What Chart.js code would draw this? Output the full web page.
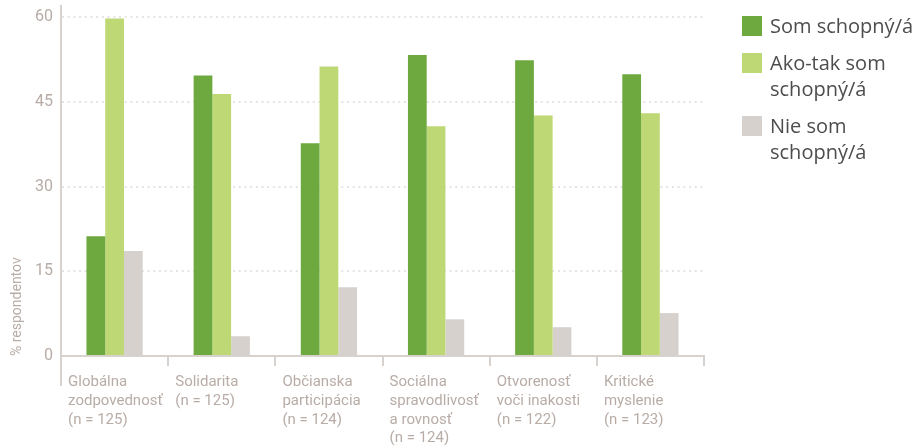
<!DOCTYPE html>
<html>
<head>
<meta charset="utf-8">
<script src="https://cdn.jsdelivr.net/npm/chart.js@4"></script>
<style>
  html, body { margin: 0; padding: 0; background: #fff; }
  #wrap { position: relative; width: 916px; height: 446px; overflow: hidden; }
  #legend { position: absolute; left: 742px; top: 13px; font-family: "Open Sans", sans-serif; font-size: 20px; line-height: 26px; color: #4d4d4d; }
  .item { display: flex; align-items: flex-start; margin-bottom: 11px; }
  .box { width: 20px; height: 20px; margin-top: 3px; margin-right: 8px; flex: none; }
  .txt { width: 150px; }
</style>
</head>
<body>
<div id="wrap">
  <canvas id="chart" width="916" height="446"></canvas>
  <div id="legend"></div>
</div>
<script>
var docById = function (id) { return document.getElementById(id); };

// categories (multi-line labels)
const categories = [
  ["Globálna", "zodpovednosť", "(n = 125)"],
  ["Solidarita", "(n = 125)"],
  ["Občianska", "participácia", "(n = 124)"],
  ["Sociálna", "spravodlivosť", "a rovnosť", "(n = 124)"],
  ["Otvorenosť", "voči inakosti", "(n = 122)"],
  ["Kritické", "myslenie", "(n = 123)"]
];

const seriesNames = ["Som schopný/á", "Ako-tak som schopný/á", "Nie som schopný/á"];
const seriesColors = ["#6ea940", "#bdd874", "#d6d1cd"];

const somSchopny = [21.2, 49.7, 37.7, 53.3, 52.4, 49.9];
const akoTak = [59.8, 46.4, 51.3, 40.7, 42.6, 43.0];
const nieSom = [18.6, 3.5, 12.2, 6.5, 5.1, 7.6];

const yTicks = [0, 15, 30, 45, 60];

const axisColor = "#d7d2ce";
const labelColor = "#b8aca7";

// left axis line continues down past the category labels
const axisExtend = {
  id: "axisExtend",
  afterDraw(chart) {
    const ctx = chart.ctx;
    const a = chart.chartArea;
    ctx.save();
    ctx.strokeStyle = axisColor;
    ctx.lineWidth = 2;
    ctx.beginPath();
    ctx.moveTo(a.left, a.bottom);
    ctx.lineTo(a.left, 386);
    ctx.stroke();
    ctx.restore();
  }
};

new Chart(docById("chart").getContext("2d"), {
  type: "bar",
  data: {
    labels: categories,
    datasets: [somSchopny, akoTak, nieSom].map((d, i) => ({
      label: seriesNames[i],
      data: d,
      backgroundColor: seriesColors[i],
      borderWidth: 0,
      categoryPercentage: 0.525,
      barPercentage: 1.0
    }))
  },
  options: {
    responsive: false,
    animation: false,
    layout: { padding: { top: 6, right: 212, left: 0, bottom: 0 } },
    plugins: {
      legend: { display: false },
      tooltip: { enabled: false }
    },
    scales: {
      x: {
        offset: true,
        grid: {
          offset: true,
          drawOnChartArea: false,
          drawTicks: true,
          tickLength: 10,
          color: axisColor,
          lineWidth: 2
        },
        border: { color: axisColor, width: 2 },
        ticks: {
          align: "start",
          labelOffset: -46.5,
          maxRotation: 0,
          minRotation: 0,
          autoSkip: false,
          padding: 7,
          color: labelColor,
          font: { family: "Roboto", size: 15, lineHeight: 1.25 }
        },
        afterFit(s) {
          s.height = 90;
          s.paddingLeft = 0;
          s.paddingRight = 0;
        }
      },
      y: {
        min: 0,
        max: 62,
        afterBuildTicks(s) {
          s.ticks = yTicks.map(v => ({ value: v }));
        },
        grid: {
          drawTicks: false,
          lineWidth: 2,
          color: ctx => ctx.tick && ctx.tick.value === 0 ? "rgba(0,0,0,0)" : "#e4e4e4"
        },
        border: { color: axisColor, width: 2, dash: [2, 3.7] },
        ticks: {
          padding: 8,
          color: labelColor,
          font: { family: "Roboto", size: 16 }
        },
        title: {
          display: true,
          text: "% respondentov",
          align: "start",
          color: labelColor,
          padding: { top: 9, bottom: 0 },
          font: { family: "Roboto", size: 14 }
        },
        afterFit(s) {
          s.width = 61;
          s.paddingTop = 0;
          s.paddingBottom = 0;
        }
      }
    }
  },
  plugins: [axisExtend]
});

// legend as html, built from the series arrays
const legend = docById("legend");
seriesNames.forEach((name, i) => {
  const item = document.createElement("div");
  item.className = "item";
  item.innerHTML = '<div class="box" style="background:' + seriesColors[i] + '"></div><div class="txt"></div>';
  item.querySelector(".txt").textContent = name;
  legend.appendChild(item);
});
</script>
</body>
</html>
